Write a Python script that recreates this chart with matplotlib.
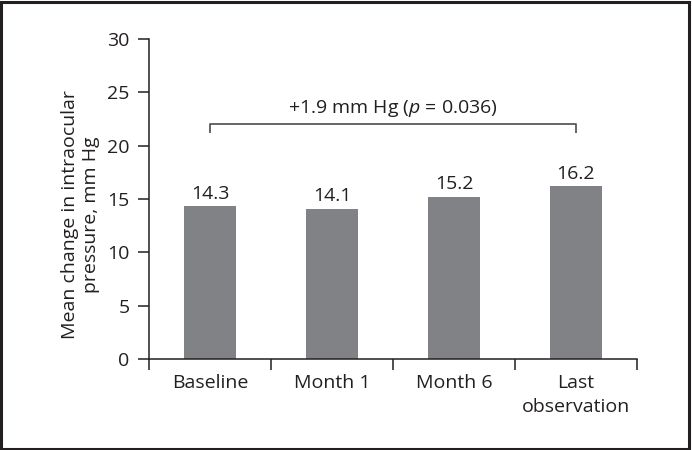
import matplotlib
matplotlib.use('Agg')
import matplotlib.pyplot as plt
from matplotlib.patches import Rectangle

# Data
categories = ['Baseline', 'Month 1', 'Month 6', 'Last\nobservation']
iop_values = [14.3, 14.1, 15.2, 16.2]
y_ticks = [0, 5, 10, 15, 20, 25, 30]
bracket_label = r'+1.9 mm Hg ($\mathit{p}$ = 0.036)'
y_label = 'Mean change in intraocular\npressure, mm Hg'

plt.rcParams['font.family'] = ['Open Sans', 'DejaVu Sans']
plt.rcParams['mathtext.fontset'] = 'custom'
plt.rcParams['mathtext.rm'] = 'Open Sans'
plt.rcParams['mathtext.it'] = 'Open Sans:italic'

txt_col = '#231f20'
bar_col = '#808285'
fs = 14

fig = plt.figure(figsize=(6.92, 4.5), dpi=100)
ax = fig.add_axes([0.2153, 0.2022, 0.7052, 0.7111])

x = list(range(len(categories)))
bars = ax.bar(x, iop_values, width=0.43, color=bar_col, zorder=2)
ax.bar_label(bars, labels=['%.1f' % v for v in iop_values],
             padding=2.5, fontsize=fs, color=txt_col)

ax.set_xlim(-0.5, len(categories) - 0.5)
ax.set_ylim(0, 30)
ax.set_yticks(y_ticks)
ax.set_yticklabels([str(t) for t in y_ticks])

# boundary ticks on x, labels in between
ax.set_xticks([i - 0.5 for i in range(len(categories) + 1)])
ax.set_xticklabels([])
ax.set_xticks(x, minor=True)
ax.set_xticklabels(categories, minor=True)
for lbl in ax.get_xticklabels(minor=True):
    lbl.set_linespacing(1.4)
ax.tick_params(axis='x', which='minor', length=0, pad=11, labelsize=fs, labelcolor=txt_col)
ax.tick_params(axis='x', which='major', length=8, width=1.1, color=txt_col)
ax.tick_params(axis='y', length=8, width=1.1, pad=6, labelsize=fs,
               color=txt_col, labelcolor=txt_col)

for s in ['top', 'right']:
    ax.spines[s].set_visible(False)
for s in ['left', 'bottom']:
    ax.spines[s].set_linewidth(1.1)
    ax.spines[s].set_color(txt_col)

ax.set_ylabel(y_label, fontsize=fs, color=txt_col, linespacing=1.2)
ax.yaxis.set_label_coords(-0.10, 0.45)

# significance bracket between first and last bar
x0, x1 = x[0], x[-1]
ax.plot([x0, x0, x1, x1], [21.2, 22.03, 22.03, 21.2], color='#58595b',
        lw=1.3, solid_capstyle='butt', clip_on=False)
ax.text((x0 + x1) / 2, 23.05, bracket_label, ha='center', va='baseline',
        fontsize=fs, color=txt_col)

# outer frame
fig.patches.append(Rectangle((0.002, 0.003), 0.994, 0.993, transform=fig.transFigure,
                             fill=False, edgecolor='#231f20', lw=2.2))

fig.savefig('out.png', dpi=100)
plt.close('all')
